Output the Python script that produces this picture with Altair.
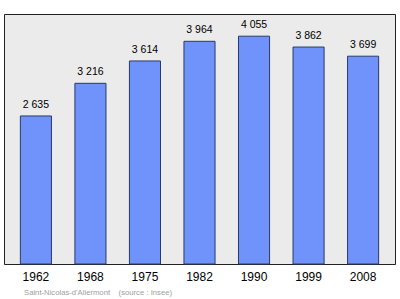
import altair as alt
import pandas as pd

years = ["1962", "1968", "1975", "1982", "1990", "1999", "2008"]
population = [2635, 3216, 3614, 3964, 4055, 3862, 3699]
labels = ["2 635", "3 216", "3 614", "3 964", "4 055", "3 862", "3 699"]
caption = "Saint-Nicolas-d'Aliermont\u00a0\u00a0\u00a0\u00a0(source\u00a0: Insee)"

df = pd.DataFrame({"year": years, "pop": population, "label": labels})

FONT = "Liberation Sans"

x = alt.X("year:N", sort=years,
          scale=alt.Scale(paddingInner=0.43, paddingOuter=0.3),
          axis=alt.Axis(title=None, labelAngle=0, domain=False, ticks=False,
                        labelPadding=7, labelFontSize=12, labelFont=FONT,
                        labelColor="#000000"))
y = alt.Y("pop:Q", scale=alt.Scale(domain=[0, 4450], nice=False), axis=None)

bars = alt.Chart(df).mark_bar(color="#7093fb", stroke="#2a3a66", strokeWidth=1).encode(x=x, y=y)
text = alt.Chart(df).mark_text(dy=-11, fontSize=10.5, font=FONT, color="#000000").encode(
    x=x, y=y, text="label:N")
cap = alt.Chart(pd.DataFrame({"t": [caption]})).mark_text(
    align="left", baseline="middle", fontSize=7.7, font=FONT, color="#a0a0a0"
).encode(x=alt.value(20), y=alt.value(279), text="t:N")

chart = (bars + text + cap).properties(
    width=391, height=250,
    autosize=alt.AutoSizeParams(type="none"),
    padding={"left": 4, "top": 14, "right": 5, "bottom": 35},
    background="#ffffff",
).configure_view(fill="#ebebeb", stroke="#222222", strokeWidth=1)

chart.save("out.html", embed_options={"renderer": "svg", "actions": False})
